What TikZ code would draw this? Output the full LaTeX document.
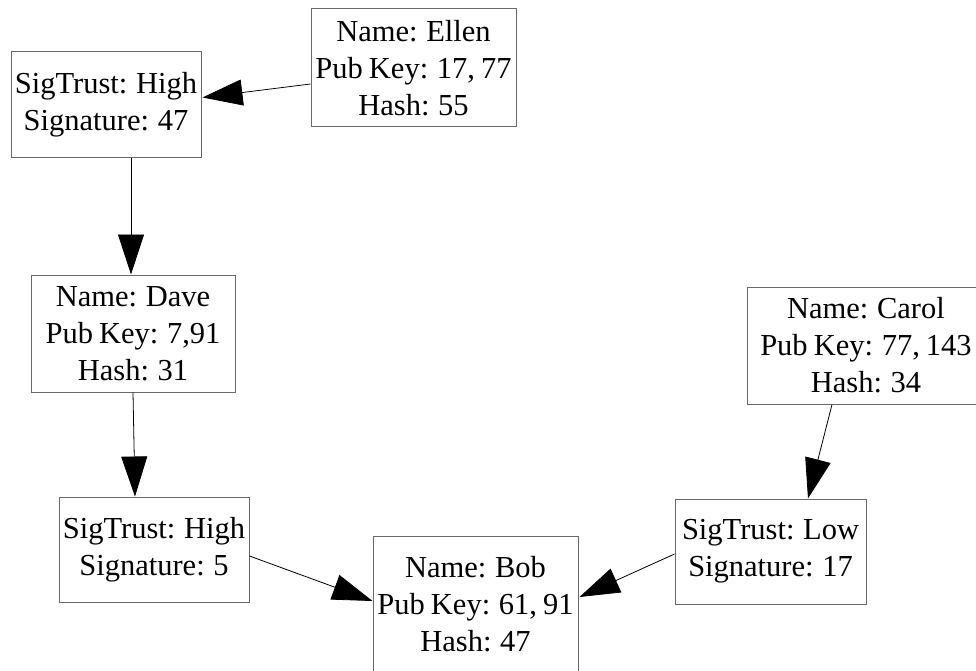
\documentclass[tikz,border=0pt]{standalone}
\usepackage{fontspec}
\setmainfont{Liberation Serif}[WordSpace=0.8]
\usetikzlibrary{arrows.meta,calc}
\begin{document}
\begin{tikzpicture}[x=1pt,y=-1pt,
  rec/.style={draw={rgb,255:red,105;green,105;blue,105}, line width=1pt, rectangle, align=center,
    inner sep=0pt, font=\fontsize{30.5}{37}\selectfont},
  edge/.style={draw=black, line width=0.8pt, -{Triangle[length=40pt,width=26pt]}}]
\useasboundingbox (0,0) rectangle (976,671);
\clip (0,0) rectangle (976,671);
\node[rec, minimum width=190pt, minimum height=106pt] (st1) at (106,105) {SigTrust: High\\Signature: 47};
\node[rec, minimum width=205pt, minimum height=118pt] (ellen) at (413.5,68) {Name: Ellen\\Pub Key: 17, 77\\Hash: 55};
\node[rec, minimum width=204pt, minimum height=117pt] (dave) at (133,333.5) {Name: Dave\\Pub Key: 7,91\\Hash: 31};
\node[rec, minimum width=190pt, minimum height=105pt] (st2) at (154,549.5) {SigTrust: High\\Signature: 5};
\node[rec, minimum width=205pt, minimum height=137pt] (bob) at (475.5,604.5) {Name: Bob\\Pub Key: 61, 91\\Hash: 47};
\node[rec, minimum width=191pt, minimum height=105pt] (low) at (770.5,551.5) {SigTrust: Low\\Signature: 17};
\node[rec, minimum width=238pt, minimum height=117pt] (carol) at (866,345.5) {Name: Carol\\Pub Key: 77, 143\\Hash: 34};
\draw[edge] ($(ellen.west)+(0,16)$) -- ($(st1.east)+(1,-7.5)$);
\draw[edge] ($(st1.south)+(25,0)$) -- ($(dave.north)+(-2,0)$);
\draw[edge] (dave.south) -- ($(st2.north)+(-19,0)$);
\draw[edge] ($(st2.east)+(0,6.5)$) -- ($(bob.west)+(0,-3.5)$);
\draw[edge] ($(low.west)+(0,2.5)$) -- ($(bob.east)+(1,-7.5)$);
\draw[edge] ($(carol.south)+(-34,0)$) -- ($(low.north)+(37.5,0)$);
\end{tikzpicture}
\end{document}
